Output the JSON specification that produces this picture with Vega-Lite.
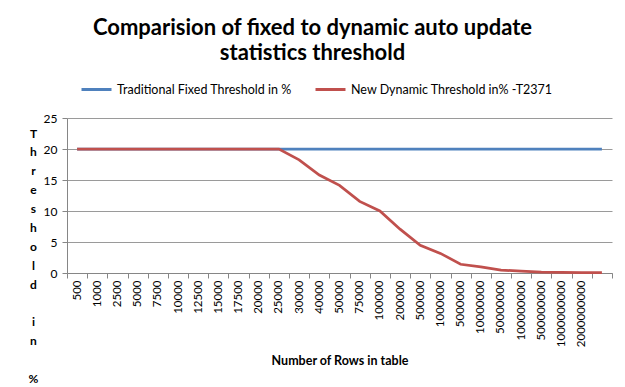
{
  "$schema": "https://vega.github.io/schema/vega-lite/v6.json",
  "width": 545,
  "height": 155,
  "autosize": {"type": "none"},
  "padding": {"left": 67, "top": 118, "right": 13, "bottom": 114},
  "background": "white",
  "title": {
    "text": ["Comparision of fixed to dynamic auto update", "statistics threshold"],
    "font": "Lato",
    "fontSize": 22,
    "fontWeight": "bold",
    "color": "black",
    "anchor": "middle",
    "frame": "group",
    "dx": -27,
    "lineHeight": 25,
    "offset": 8
  },
  "data": {
    "values": [
      {"n": "500", "series": "Traditional Fixed Threshold in %", "pct": 20},
      {"n": "1000", "series": "Traditional Fixed Threshold in %", "pct": 20},
      {"n": "2500", "series": "Traditional Fixed Threshold in %", "pct": 20},
      {"n": "5000", "series": "Traditional Fixed Threshold in %", "pct": 20},
      {"n": "7500", "series": "Traditional Fixed Threshold in %", "pct": 20},
      {"n": "10000", "series": "Traditional Fixed Threshold in %", "pct": 20},
      {"n": "12500", "series": "Traditional Fixed Threshold in %", "pct": 20},
      {"n": "15000", "series": "Traditional Fixed Threshold in %", "pct": 20},
      {"n": "17500", "series": "Traditional Fixed Threshold in %", "pct": 20},
      {"n": "20000", "series": "Traditional Fixed Threshold in %", "pct": 20},
      {"n": "25000", "series": "Traditional Fixed Threshold in %", "pct": 20},
      {"n": "30000", "series": "Traditional Fixed Threshold in %", "pct": 20},
      {"n": "40000", "series": "Traditional Fixed Threshold in %", "pct": 20},
      {"n": "50000", "series": "Traditional Fixed Threshold in %", "pct": 20},
      {"n": "75000", "series": "Traditional Fixed Threshold in %", "pct": 20},
      {"n": "100000", "series": "Traditional Fixed Threshold in %", "pct": 20},
      {"n": "200000", "series": "Traditional Fixed Threshold in %", "pct": 20},
      {"n": "500000", "series": "Traditional Fixed Threshold in %", "pct": 20},
      {"n": "1000000", "series": "Traditional Fixed Threshold in %", "pct": 20},
      {"n": "5000000", "series": "Traditional Fixed Threshold in %", "pct": 20},
      {"n": "10000000", "series": "Traditional Fixed Threshold in %", "pct": 20},
      {"n": "50000000", "series": "Traditional Fixed Threshold in %", "pct": 20},
      {"n": "100000000", "series": "Traditional Fixed Threshold in %", "pct": 20},
      {"n": "500000000", "series": "Traditional Fixed Threshold in %", "pct": 20},
      {"n": "1000000000", "series": "Traditional Fixed Threshold in %", "pct": 20},
      {"n": "2000000000", "series": "Traditional Fixed Threshold in %", "pct": 20},
      {"n": "", "series": "Traditional Fixed Threshold in %", "pct": 20},
      {"n": "500", "series": "New Dynamic Threshold in% -T2371", "pct": 20},
      {"n": "1000", "series": "New Dynamic Threshold in% -T2371", "pct": 20},
      {"n": "2500", "series": "New Dynamic Threshold in% -T2371", "pct": 20},
      {"n": "5000", "series": "New Dynamic Threshold in% -T2371", "pct": 20},
      {"n": "7500", "series": "New Dynamic Threshold in% -T2371", "pct": 20},
      {"n": "10000", "series": "New Dynamic Threshold in% -T2371", "pct": 20},
      {"n": "12500", "series": "New Dynamic Threshold in% -T2371", "pct": 20},
      {"n": "15000", "series": "New Dynamic Threshold in% -T2371", "pct": 20},
      {"n": "17500", "series": "New Dynamic Threshold in% -T2371", "pct": 20},
      {"n": "20000", "series": "New Dynamic Threshold in% -T2371", "pct": 20},
      {"n": "25000", "series": "New Dynamic Threshold in% -T2371", "pct": 20},
      {"n": "30000", "series": "New Dynamic Threshold in% -T2371", "pct": 18.26},
      {"n": "40000", "series": "New Dynamic Threshold in% -T2371", "pct": 15.81},
      {"n": "50000", "series": "New Dynamic Threshold in% -T2371", "pct": 14.14},
      {"n": "75000", "series": "New Dynamic Threshold in% -T2371", "pct": 11.55},
      {"n": "100000", "series": "New Dynamic Threshold in% -T2371", "pct": 10},
      {"n": "200000", "series": "New Dynamic Threshold in% -T2371", "pct": 7.07},
      {"n": "500000", "series": "New Dynamic Threshold in% -T2371", "pct": 4.47},
      {"n": "1000000", "series": "New Dynamic Threshold in% -T2371", "pct": 3.16},
      {"n": "5000000", "series": "New Dynamic Threshold in% -T2371", "pct": 1.41},
      {"n": "10000000", "series": "New Dynamic Threshold in% -T2371", "pct": 1.0},
      {"n": "50000000", "series": "New Dynamic Threshold in% -T2371", "pct": 0.45},
      {"n": "100000000", "series": "New Dynamic Threshold in% -T2371", "pct": 0.32},
      {"n": "500000000", "series": "New Dynamic Threshold in% -T2371", "pct": 0.14},
      {"n": "1000000000", "series": "New Dynamic Threshold in% -T2371", "pct": 0.1},
      {"n": "2000000000", "series": "New Dynamic Threshold in% -T2371", "pct": 0.07},
      {"n": "", "series": "New Dynamic Threshold in% -T2371", "pct": 0.05}
    ]
  },
  "encoding": {
    "x": {
      "field": "n",
      "type": "nominal",
      "sort": null,
      "scale": {"type": "band", "paddingInner": 0, "paddingOuter": 0},
      "axis": {
        "title": "Number of Rows in table",
        "titleFont": "Lato",
        "titleFontSize": 12.5,
        "titleFontWeight": "bold",
        "titleColor": "black",
        "titleBaseline": "middle",
        "titleY": 87,
        "tickBand": "extent",
        "labelAngle": 270,
        "labelAlign": "right",
        "labelBaseline": "middle",
        "labelFont": "Lato",
        "labelFontSize": 11.5,
        "labelColor": "black",
        "labelPadding": 2,
        "labelOverlap": false,
        "domainColor": "#868686",
        "tickColor": "#868686",
        "tickSize": 5,
        "grid": false
      }
    },
    "y": {
      "field": "pct",
      "type": "quantitative",
      "scale": {"domain": [0, 25], "nice": false},
      "axis": {
        "title": ["T", "h", "r", "e", "s", "h", "o", "l", "d", "\u2800", "i", "n", "\u2800", "%"],
        "titleFont": "Lato",
        "titleFontSize": 12,
        "titleFontWeight": "bold",
        "titleColor": "black",
        "titleAngle": 0,
        "titleAlign": "center",
        "titleBaseline": "middle",
        "titleLineHeight": 18.9,
        "titleX": -34,
        "titleY": 15,
        "values": [0, 5, 10, 15, 20, 25],
        "labelFont": "Lato",
        "labelFontSize": 12,
        "labelColor": "black",
        "labelPadding": 5,
        "domainColor": "#868686",
        "tickColor": "#868686",
        "tickSize": 5,
        "gridColor": "#9a9a9a",
        "gridWidth": 1
      }
    },
    "color": {
      "field": "series",
      "type": "nominal",
      "scale": {
        "domain": ["Traditional Fixed Threshold in %", "New Dynamic Threshold in% -T2371"],
        "range": ["#4F81BD", "#C0504D"]
      },
      "legend": {
        "title": null,
        "orient": "none",
        "legendX": 13,
        "legendY": -45,
        "direction": "horizontal",
        "symbolType": "stroke",
        "symbolSize": 900,
        "symbolStrokeWidth": 3,
        "labelFont": "Lato",
        "labelFontSize": 12.5,
        "labelColor": "black",
        "labelOffset": 4,
        "labelLimit": 300,
        "columnPadding": 17
      }
    }
  },
  "layer": [
    {
      "transform": [{"filter": "datum.series == 'Traditional Fixed Threshold in %'"}],
      "mark": {"type": "line", "strokeWidth": 2.75}
    },
    {
      "transform": [{"filter": "datum.series == 'New Dynamic Threshold in% -T2371'"}],
      "mark": {"type": "line", "strokeWidth": 2.75}
    }
  ],
  "config": {"view": {"stroke": null}}
}
